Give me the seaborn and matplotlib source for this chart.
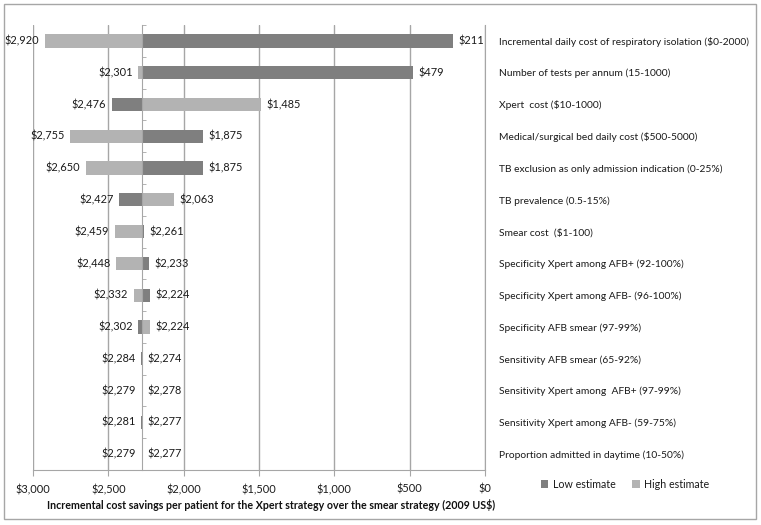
import matplotlib
matplotlib.use("Agg")
import matplotlib.pyplot as plt
import seaborn as sns
import pandas as pd
from matplotlib.patches import Rectangle, Patch
from matplotlib.ticker import FixedLocator, FuncFormatter
from matplotlib.transforms import offset_copy

# ---------------- data ----------------
parameters = [
    "Incremental daily cost of respiratory isolation ($0-2000)",
    "Number of tests per annum (15-1000)",
    "Xpert  cost ($10-1000)",
    "Medical/surgical bed daily cost ($500-5000)",
    "TB exclusion as only admission indication (0-25%)",
    "TB prevalence (0.5-15%)",
    "Smear cost  ($1-100)",
    "Specificity Xpert among AFB+ (92-100%)",
    "Specificity Xpert among AFB- (96-100%)",
    "Specificity AFB smear (97-99%)",
    "Sensitivity AFB smear (65-92%)",
    "Sensitivity Xpert among  AFB+ (97-99%)",
    "Sensitivity Xpert among AFB- (59-75%)",
    "Proportion admitted in daytime (10-50%)",
]
low_estimate = [211, 479, 2476, 1875, 1875, 2427, 2261, 2233, 2224, 2302, 2284, 2279, 2281, 2279]
high_estimate = [2920, 2301, 1485, 2755, 2650, 2063, 2459, 2448, 2332, 2224, 2274, 2278, 2277, 2277]
base_case = 2279
x_ticks = [3000, 2500, 2000, 1500, 1000, 500, 0]
series_names = ["Low estimate", "High estimate"]
series_colors = ["#7f7f7f", "#b3b3b3"]

# ---------------- style ----------------
sns.set_style("white")
plt.rcParams["font.family"] = ["Lato", "DejaVu Sans"]
plt.rcParams["font.size"] = 7.5
txt_col = "#1a1a1a"

W, H = 761, 525
fig = plt.figure(figsize=(W / 100, H / 100), dpi=100)
ax = fig.add_axes([33 / W, 1 - 470 / H, (485 - 33) / W, (470 - 25) / H])

df = pd.DataFrame({
    "parameter": parameters * 2,
    "value": low_estimate + high_estimate,
    "estimate": [series_names[0]] * len(parameters) + [series_names[1]] * len(parameters),
})

sns.barplot(data=df, y="parameter", x="value", hue="estimate", order=parameters,
            hue_order=series_names, palette=series_colors, dodge=False,
            orient="h", width=0.42, legend=False, ax=ax, saturation=1,
            linewidth=0, errorbar=None)

# bars start at the base case value
for cont, vals in zip(ax.containers, [low_estimate, high_estimate]):
    for patch, v in zip(cont.patches, vals):
        patch.set_x(base_case)
        patch.set_width(v - base_case)

grid_col = "#a6a6a6"
ax.set_xlim(3000, 0)
ax.set_ylim(len(parameters) - 0.5, -0.5)
ax.xaxis.set_major_locator(FixedLocator(x_ticks))
ax.xaxis.set_major_formatter(FuncFormatter(lambda v, p: f"${v:,.0f}"))
ax.grid(axis="x", color=grid_col, linewidth=1)
ax.grid(axis="y", visible=False)
ax.set_axisbelow(True)

ax.spines["top"].set_visible(False)
ax.spines["right"].set_color(grid_col)
ax.spines["bottom"].set_color(grid_col)
ax.spines["left"].set_color(grid_col)
ax.spines["left"].set_position(("data", base_case))
ax.spines["left"].set_zorder(3)

ax.tick_params(axis="x", which="major", bottom=True, direction="out", length=4,
               color=grid_col, pad=6, labelsize=7.9, labelcolor=txt_col)
ax.yaxis.set_minor_locator(FixedLocator([i - 0.5 for i in range(len(parameters) + 1)]))
ax.tick_params(axis="y", which="major", left=False, right=False, labelleft=False,
               labelright=True, pad=6.8, labelsize=7.35, labelcolor=txt_col)
ax.tick_params(axis="y", which="minor", left=True, right=False, direction="in",
               length=3, color=grid_col)
ax.set_xlabel("")
ax.set_ylabel("")

# value labels
tr_left = offset_copy(ax.transData, fig=fig, x=-4, y=0, units="points")
tr_right = offset_copy(ax.transData, fig=fig, x=4, y=0, units="points")
for i, (lo, hi) in enumerate(zip(low_estimate, high_estimate)):
    lv, rv = max(lo, hi), min(lo, hi)
    ax.text(lv, i, f"${lv:,.0f}", transform=tr_left, ha="right", va="center",
            fontsize=7.9, color=txt_col)
    ax.text(rv, i, f"${rv:,.0f}", transform=tr_right, ha="left", va="center",
            fontsize=7.9, color=txt_col)

# x axis title
fig.text(271 / W, 1 - 505 / H,
         "Incremental cost savings per patient for the Xpert strategy over the smear strategy (2009 US$)",
         ha="center", va="center", fontsize=7.7, fontweight="bold", color="#111111")

# legend
handles = [Patch(facecolor=c, edgecolor="none", label=n) for c, n in zip(series_colors, series_names)]
fig.legend(handles=handles, loc="center", bbox_to_anchor=(625 / W, 1 - 484 / H), ncol=2,
           frameon=False, fontsize=7.7, handlelength=0.7, handleheight=0.7,
           handletextpad=0.4, columnspacing=1.6, labelcolor=txt_col)

# outer border
fig.patches.append(Rectangle((4 / W, 1 - 519 / H), (756 - 4) / W, (519 - 4) / H,
                             transform=fig.transFigure, fill=False,
                             edgecolor="#a6a6a6", linewidth=1))

fig.savefig("out.png", dpi=100)
